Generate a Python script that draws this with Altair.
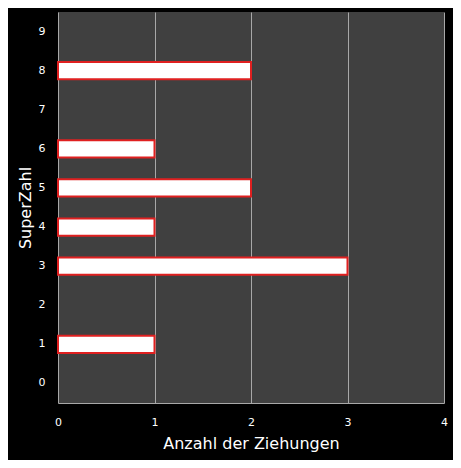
import altair as alt
import pandas as pd

categories = [0, 1, 2, 3, 4, 5, 6, 7, 8, 9]
counts = [0, 1, 0, 3, 1, 2, 1, 0, 2, 0]

df = pd.DataFrame({"SuperZahl": categories, "Anzahl": counts})
df = df[df["Anzahl"] > 0]

chart = alt.Chart(df).mark_bar(
    color="white", stroke="#e02020", strokeWidth=2
).encode(
    x=alt.X("Anzahl:Q", title="Anzahl der Ziehungen",
            scale=alt.Scale(domain=[0, 4], nice=False),
            axis=alt.Axis(values=[0, 1, 2, 3, 4], format="d", grid=True,
                          gridColor="#a8a8a8", gridWidth=1, domainColor="#a8a8a8",
                          ticks=False, labelColor="white", titleColor="white",
                          labelFont="DejaVu Sans", titleFont="DejaVu Sans",
                          labelFontSize=11, titleFontSize=16, titleFontWeight="normal",
                          labelPadding=13, titlePadding=8, labelFlush=False)),
    y=alt.Y("SuperZahl:O", title="SuperZahl",
            sort=categories[::-1],
            scale=alt.Scale(domain=categories[::-1], paddingInner=0.56, paddingOuter=0.28),
            axis=alt.Axis(grid=False, domain=False, ticks=False, labelColor="white",
                          titleColor="white", labelFont="DejaVu Sans",
                          titleFont="DejaVu Sans", labelFontSize=11, titleFontSize=16,
                          titleFontWeight="normal", labelPadding=13, titlePadding=5,
                          labelAngle=0)),
).properties(
    width=386, height=391, background="black",
    padding={"left": 50, "top": 4, "right": 9, "bottom": 57},
    autosize=alt.AutoSizeParams(type="none"),
).configure_view(fill="#404040", stroke=None)

chart.save("out.html", embed_options={"renderer": "svg", "actions": False})
